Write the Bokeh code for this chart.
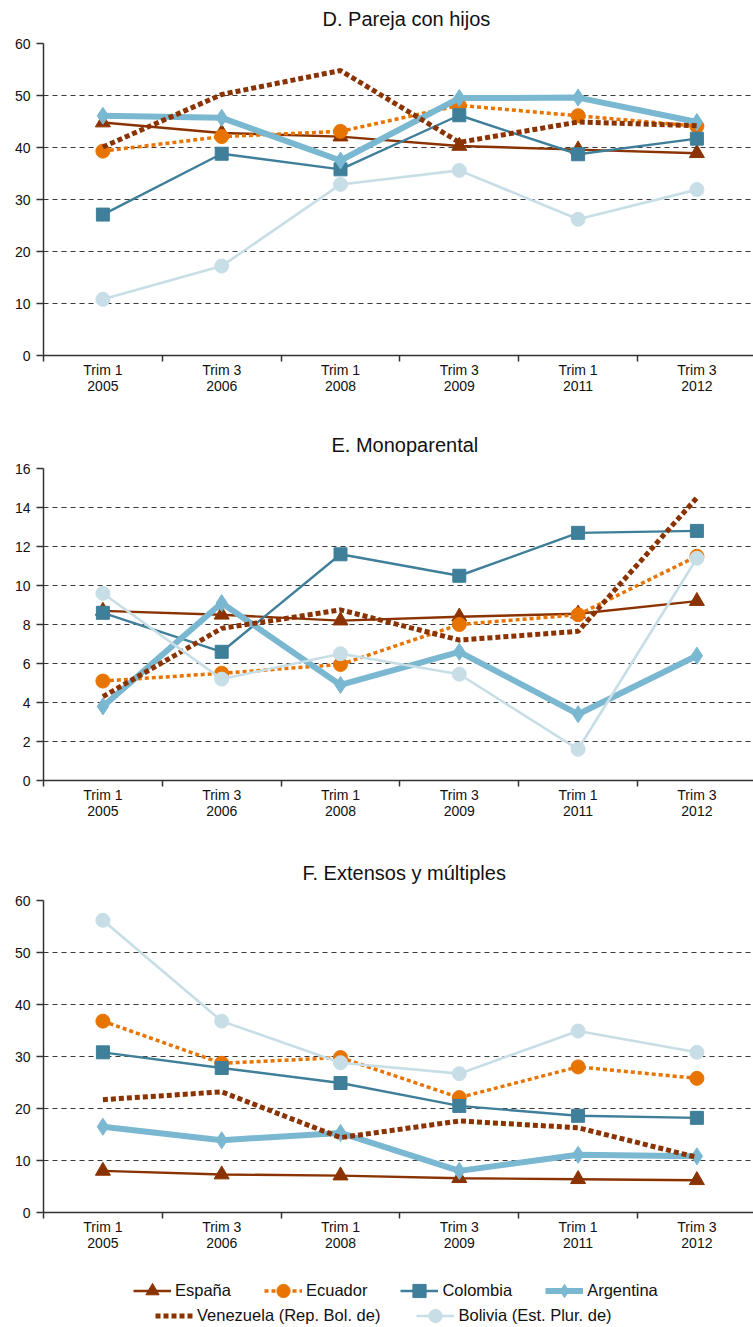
from bokeh.plotting import figure
from bokeh.models import Range1d, FixedTicker, Legend, LegendItem, Title
from bokeh.layouts import column
from bokeh.embed import file_html
from bokeh.resources import INLINE

# ---------------- data ----------------
periods = ["Trim 1\n2005", "Trim 3\n2006", "Trim 1\n2008", "Trim 3\n2009", "Trim 1\n2011", "Trim 3\n2012"]
series_names = ["España", "Ecuador", "Colombia", "Argentina",
                "Venezuela (Rep. Bol. de)", "Bolivia (Est. Plur. de)"]

panel_titles = ["D. Pareja con hijos", "E. Monoparental", "F. Extensos y múltiples"]
panel_ymax = [60, 16, 60]
panel_ystep = [10, 2, 10]

# D. Pareja con hijos
d_espana = [44.8, 42.8, 42.1, 40.3, 39.6, 38.9]
d_ecuador = [39.3, 42.1, 43.1, 48.1, 46.1, 44.1]
d_colombia = [27.1, 38.8, 35.8, 46.2, 38.7, 41.7]
d_argentina = [46.1, 45.7, 37.5, 49.5, 49.6, 44.9]
d_venezuela = [40.1, 50.2, 54.8, 41.0, 44.9, 44.2]
d_bolivia = [10.8, 17.2, 32.9, 35.6, 26.2, 31.9]

# E. Monoparental
e_espana = [8.7, 8.5, 8.2, 8.4, 8.55, 9.2]
e_ecuador = [5.1, 5.5, 5.95, 8.0, 8.5, 11.5]
e_colombia = [8.6, 6.6, 11.6, 10.5, 12.7, 12.8]
e_argentina = [3.8, 9.1, 4.9, 6.6, 3.4, 6.4]
e_venezuela = [4.3, 7.8, 8.75, 7.2, 7.65, 14.5]
e_bolivia = [9.6, 5.2, 6.5, 5.45, 1.6, 11.4]

# F. Extensos y múltiples
f_espana = [8.0, 7.3, 7.1, 6.6, 6.4, 6.2]
f_ecuador = [36.8, 28.7, 29.8, 22.1, 28.0, 25.8]
f_colombia = [30.8, 27.8, 24.9, 20.5, 18.6, 18.2]
f_argentina = [16.5, 13.9, 15.3, 8.0, 11.1, 10.8]
f_venezuela = [21.7, 23.2, 14.4, 17.6, 16.3, 10.6]
f_bolivia = [56.2, 36.8, 28.8, 26.7, 34.9, 30.8]

panels = [
    [d_espana, d_ecuador, d_colombia, d_argentina, d_venezuela, d_bolivia],
    [e_espana, e_ecuador, e_colombia, e_argentina, e_venezuela, e_bolivia],
    [f_espana, f_ecuador, f_colombia, f_argentina, f_venezuela, f_bolivia],
]

# ---------------- styles ----------------
styles = [
    dict(color="#8B3300", width=2.4, dash="solid", marker="triangle", size=15),
    dict(color="#E87400", width=3.5, dash="4 3", marker="circle", size=14),
    dict(color="#3F7F9A", width=2.4, dash="solid", marker="square", size=13),
    dict(color="#7AB7D0", width=6, dash="solid", marker="diamond", size=17),
    dict(color="#8B3300", width=5, dash="5 3", marker=None, size=0),
    dict(color="#C8DEE7", width=2.6, dash="solid", marker="circle", size=14),
]

FONT = "Liberation Sans"
xs = [i + 0.5 for i in range(len(periods))]

# layout: (top border, bottom border, title standoff, title offset)
geoms = [(43, 55, 11, 279), (58, 55, 26, 288), (65, 50, 34, 259)]
FRAME_H = 312
FRAME_W = 710
CAT_W = 118.8
LEFT = 43
WIDTH = LEFT + FRAME_W


def add_series(p, k):
    items = []
    for s, (vals, st) in enumerate(zip(panels[k], styles)):
        rs = []
        ln = p.line(xs, vals, line_color=st["color"], line_width=st["width"],
                    line_dash=st["dash"])
        rs.append(ln)
        if st["marker"]:
            sc = p.scatter(xs, vals, marker=st["marker"], size=st["size"],
                           fill_color=st["color"], line_color=st["color"], line_width=1)
            rs.append(sc)
        items.append(LegendItem(label=series_names[s], renderers=rs))
    return items


def style_title(t, standoff, offset):
    t.text_font = FONT
    t.text_font_size = "20px"
    t.text_font_style = "normal"
    t.text_color = "#111111"
    t.align = "left"
    t.offset = offset
    t.standoff = standoff


figs = []
for k in range(3):
    top, bot, standoff, toff = geoms[k]
    p = figure(width=WIDTH, height=top + FRAME_H + bot,
               output_backend="svg", toolbar_location=None,
               x_range=Range1d(0, FRAME_W / CAT_W),
               y_range=Range1d(0, panel_ymax[k]),
               min_border_left=LEFT, min_border_right=0,
               min_border_top=top, min_border_bottom=bot,
               title=panel_titles[k])
    style_title(p.title, standoff, toff)
    if k == 0:
        # thin spacer between the frame and the title, lifting the title to the top
        spacer = Title(text=" ", text_font_size="5px", standoff=0)
        p.add_layout(spacer, "above")
    p.outline_line_color = None
    p.background_fill_color = "white"

    p.xgrid.visible = False
    p.ygrid.grid_line_color = "#3a3a3a"
    p.ygrid.grid_line_dash = "5 4"
    p.ygrid.grid_line_width = 1
    p.ygrid.ticker = FixedTicker(ticks=list(range(0, panel_ymax[k] + 1, panel_ystep[k])))

    xa = p.xaxis[0]
    xa.ticker = FixedTicker(ticks=xs, minor_ticks=list(range(0, len(periods) + 1)))
    xa.major_label_overrides = {x: lab for x, lab in zip(xs, periods)}
    xa.major_tick_out = 0
    xa.major_tick_in = 0
    xa.minor_tick_out = 6
    xa.minor_tick_in = 0
    xa.minor_tick_line_color = "#333333"
    xa.minor_tick_line_width = 1.5
    xa.axis_line_color = "#333333"
    xa.axis_line_width = 1.5
    xa.major_label_text_font = FONT
    xa.major_label_text_font_size = "14px"
    xa.major_label_text_line_height = 1.0
    xa.major_label_text_color = "#111111"
    xa.major_label_standoff = 0

    ya = p.yaxis[0]
    ya.ticker = FixedTicker(ticks=list(range(0, panel_ymax[k] + 1, panel_ystep[k])))
    ya.major_tick_out = 7
    ya.major_tick_in = 0
    ya.minor_tick_out = 0
    ya.minor_tick_in = 0
    ya.major_tick_line_color = "#333333"
    ya.major_tick_line_width = 1.5
    ya.axis_line_color = "#333333"
    ya.axis_line_width = 1.5
    ya.major_label_text_font = FONT
    ya.major_label_text_font_size = "14px"
    ya.major_label_text_color = "#111111"
    ya.major_label_standoff = 6

    add_series(p, k)
    figs.append(p)

# ---------------- legend strip (own small figure) ----------------
LEG_H = 1327 - sum(f.height for f in figs)
pl = figure(width=WIDTH, height=LEG_H, output_backend="svg", toolbar_location=None,
            x_range=Range1d(0, FRAME_W / CAT_W), y_range=Range1d(-1000, -999),
            x_axis_type=None, y_axis_type=None,
            min_border_left=0, min_border_right=0, min_border_top=0, min_border_bottom=0)
pl.outline_line_color = None
pl.xgrid.visible = False
pl.ygrid.visible = False
# same series as panel F (outside the visible y range; used only for the legend glyphs)
items = add_series(pl, 2)

common = dict(orientation="horizontal",
              label_text_font=FONT, label_text_font_size="16.5px", label_text_color="#111111",
              glyph_width=38, glyph_height=33, label_height=33, label_standoff=4,
              padding=0, margin=0, border_line_alpha=0, background_fill_alpha=0)
leg1 = Legend(items=items[:4], location=(90, 1327 - 1290 - 16.5), spacing=33, **common)
leg2 = Legend(items=items[4:], location=(112, 1327 - 1315 - 16.5), spacing=36, **common)
pl.add_layout(leg1, "center")
pl.add_layout(leg2, "center")

layout = column(*figs, pl, spacing=0)
open("out.html", "w").write(file_html(layout, INLINE))
